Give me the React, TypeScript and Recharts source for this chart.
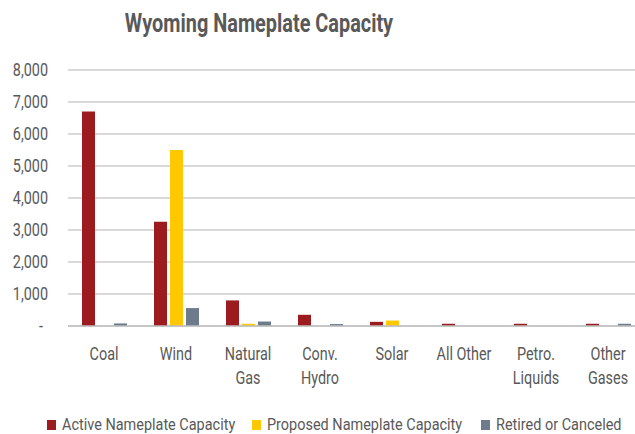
import React from 'react';
import { BarChart, Bar, XAxis, YAxis, CartesianGrid, Legend } from 'recharts';

const categories = ['Coal', 'Wind', 'Natural Gas', 'Conv. Hydro', 'Solar', 'All Other', 'Petro. Liquids', 'Other Gases'];
const activeCapacity = [6700, 3260, 800, 350, 130, 70, 70, 70];
const proposedCapacity = [0, 5500, 70, 0, 170, 0, 0, 0];
const retiredCapacity = [80, 560, 140, 60, 0, 0, 0, 70];
const yTicks = [0, 1000, 2000, 3000, 4000, 5000, 6000, 7000, 8000];

const data = categories.map((name, i) => ({
  name,
  active: activeCapacity[i],
  proposed: proposedCapacity[i],
  retired: retiredCapacity[i],
}));

// narrow look: Roboto squeezed horizontally
const FONT = 'Roboto, sans-serif';
const SQUEEZE = 0.8;
const GREY = '#595959';

// two-line labels: "All Other" stays on one line like the original
const splitLabel = (s: string): string[] => (s === 'All Other' ? [s] : s.split(' '));

const XTick = (props: any) => {
  const { x, y, payload } = props;
  return (
    <g transform={`translate(${x},${y})`}>
      {splitLabel(payload.value).map((w, i) => (
        <text
          key={i}
          transform={`translate(0,${17.5 + i * 24}) scale(${SQUEEZE},1)`}
          textAnchor="middle"
          fill={GREY}
          fontSize={18}
          fontFamily={FONT}
        >
          {w}
        </text>
      ))}
    </g>
  );
};

const YTick = (props: any) => {
  const { x, y, payload } = props;
  const label = payload.value === 0 ? '-' : payload.value.toLocaleString('en-US');
  const tx = payload.value === 0 ? x - 5 : x;
  return (
    <text
      transform={`translate(${tx},${y + 6}) scale(${SQUEEZE},1)`}
      textAnchor="end"
      fill={GREY}
      fontSize={18}
      fontFamily={FONT}
    >
      {label}
    </text>
  );
};

const legendX = [47, 252, 481];

const LegendContent = (props: any) => {
  const items = props.payload || [];
  return (
    <div style={{ position: 'relative', height: 22, fontFamily: FONT, fontSize: 17, color: GREY }}>
      {items.map((it: any, i: number) => (
        <div key={i} style={{ position: 'absolute', left: legendX[i], top: 0, height: 22 }}>
          <span style={{ position: 'absolute', left: 0, top: 7, width: 9, height: 10, background: it.color }} />
          <span
            style={{
              position: 'absolute',
              left: 15,
              top: 0,
              lineHeight: '22px',
              whiteSpace: 'nowrap',
              transform: 'scaleX(0.85)',
              transformOrigin: 'left center',
            }}
          >
            {it.value}
          </span>
        </div>
      ))}
    </div>
  );
};

const App: React.FC = () => {
  return (
    <div style={{ position: 'absolute', left: 0, top: 0, width: 635, height: 434, overflow: 'hidden', background: '#fff' }}>
      <div
        style={{
          position: 'absolute',
          left: 0,
          width: 518,
          top: 9,
          lineHeight: '29px',
          textAlign: 'center',
          fontFamily: FONT,
          fontWeight: 'bold',
          fontSize: 25,
          color: GREY,
          whiteSpace: 'nowrap',
          transform: 'scaleX(0.795)',
          transformOrigin: '259px 50%',
        }}
      >
        Wyoming Nameplate Capacity
      </div>
      <BarChart
        width={650}
        height={434}
        data={data}
        margin={{ top: 70, right: 6, left: 8, bottom: 0 }}
        barSize={13}
        barGap={3}
      >
        <CartesianGrid vertical={false} stroke="#d9d9d9" strokeWidth={2} />
        <XAxis
          dataKey="name"
          tick={<XTick />}
          tickLine={false}
          axisLine={{ stroke: '#bfbfbf', strokeWidth: 1.5 }}
          interval={0}
          height={86}
          tickMargin={10}
        />
        <YAxis
          domain={[0, 8000]}
          ticks={yTicks}
          tick={<YTick />}
          tickLine={false}
          axisLine={false}
          width={60}
          tickMargin={14}
        />
        <Legend
          verticalAlign="bottom"
          align="left"
          content={<LegendContent />}
          wrapperStyle={{ left: 0, width: 635, bottom: -0.5, height: 22 }}
        />
        <Bar dataKey="active" name="Active Nameplate Capacity" fill="#9b1b1f" isAnimationActive={false} />
        <Bar dataKey="proposed" name="Proposed Nameplate Capacity" fill="#ffc800" isAnimationActive={false} />
        <Bar dataKey="retired" name="Retired or Canceled" fill="#6d7b8d" isAnimationActive={false} />
      </BarChart>
    </div>
  );
};

export default App;
